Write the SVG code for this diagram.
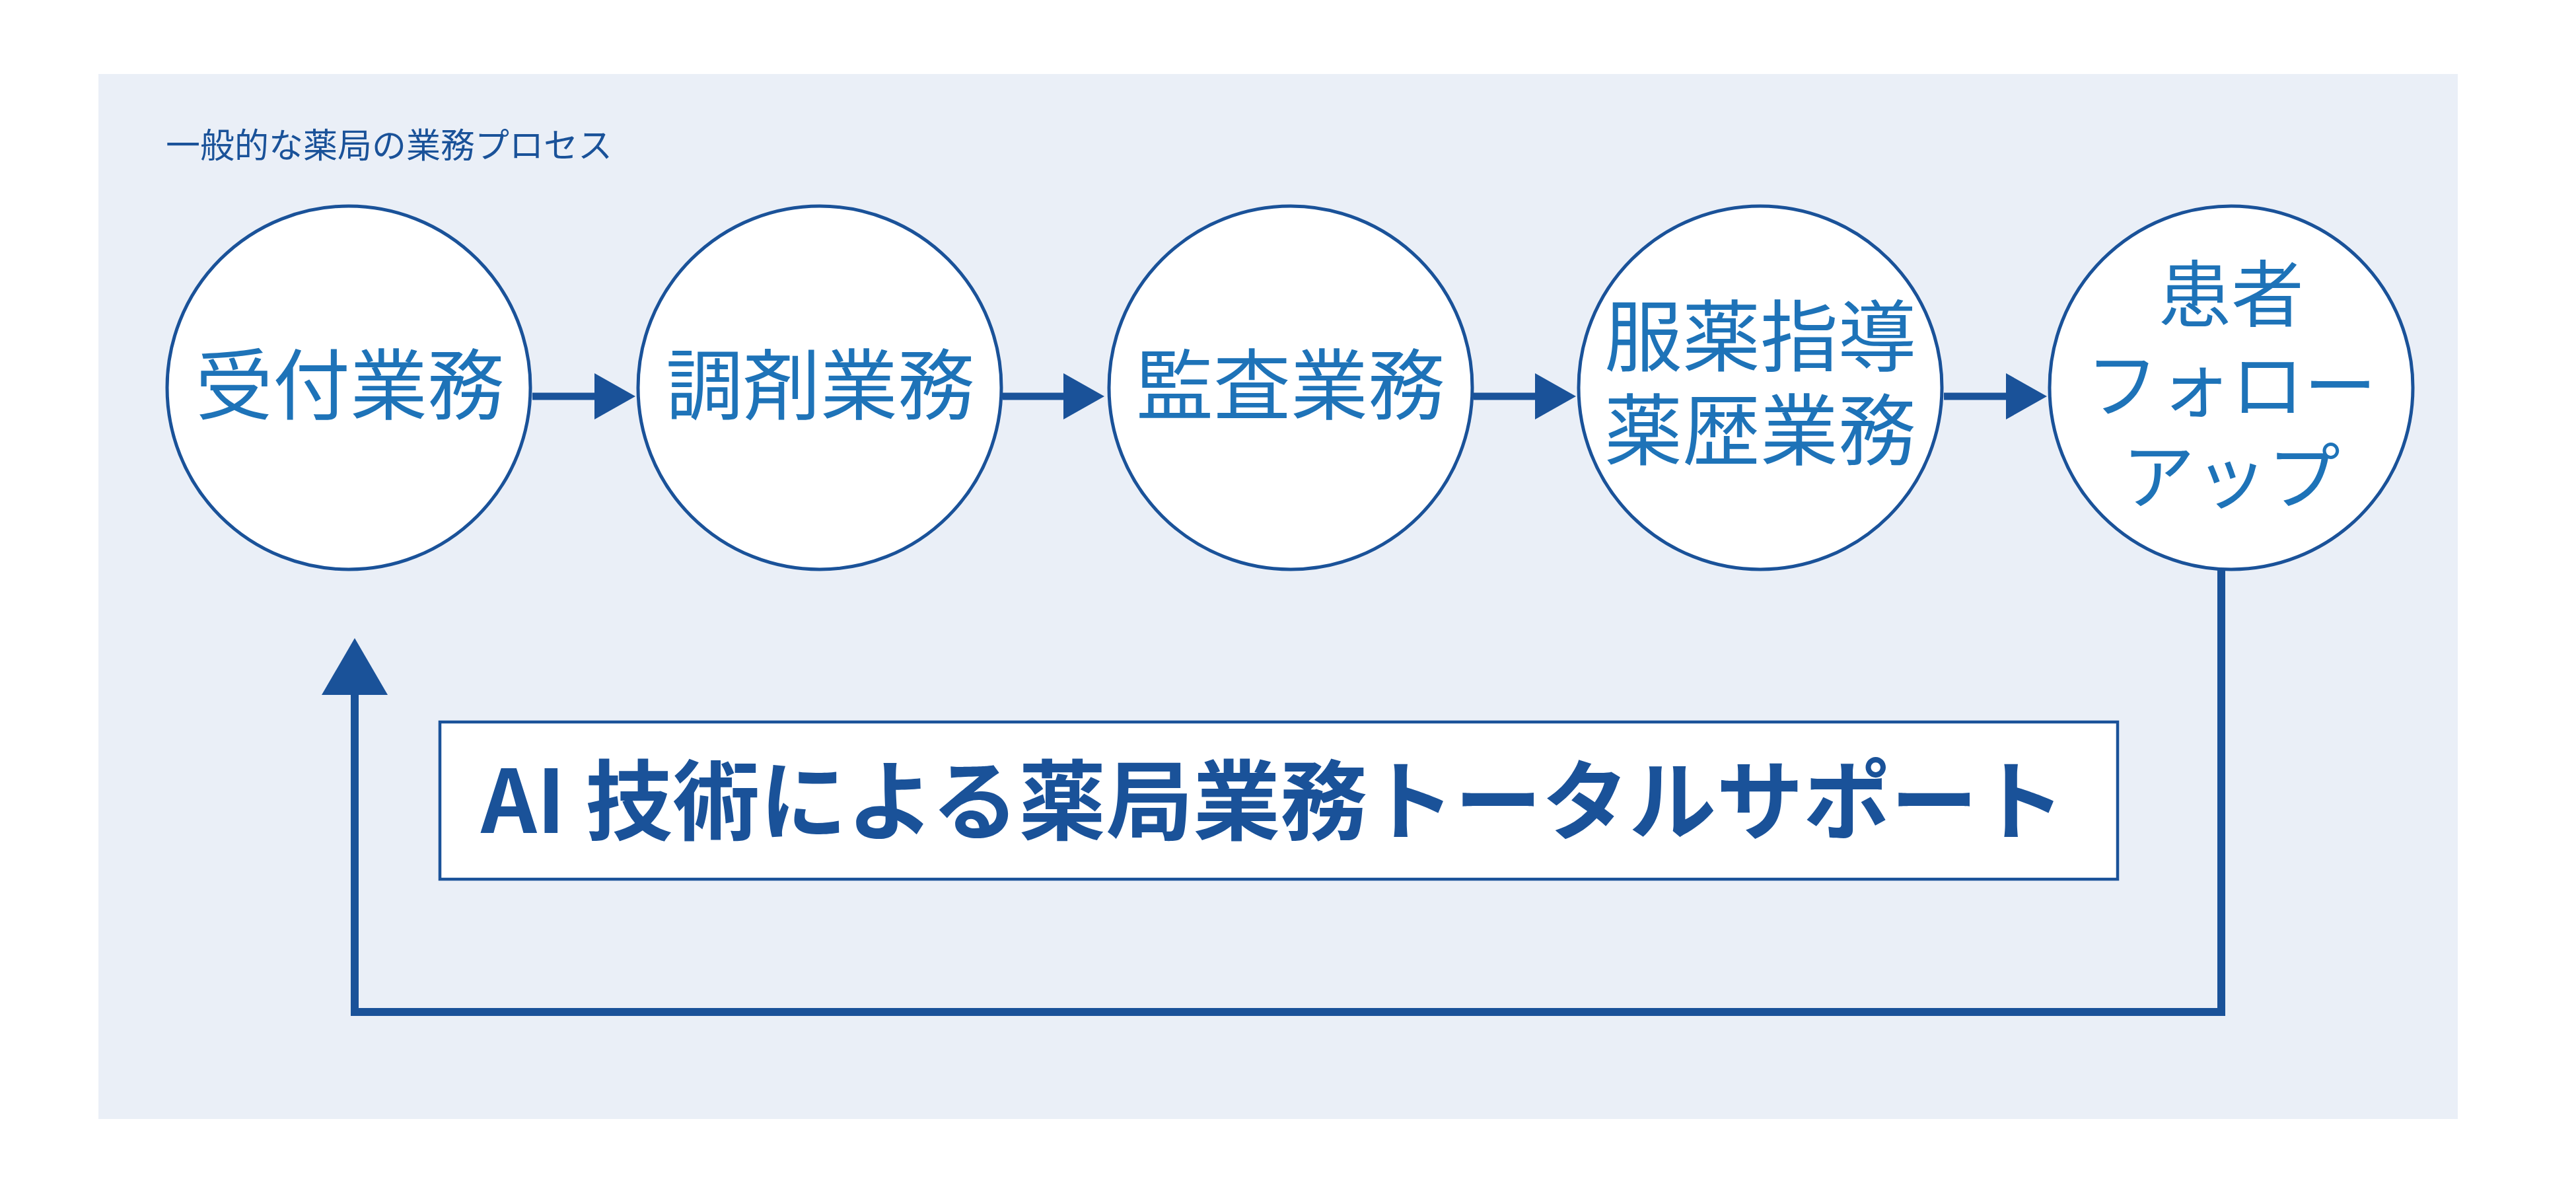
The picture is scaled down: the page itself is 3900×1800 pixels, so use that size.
<svg xmlns="http://www.w3.org/2000/svg" width="3900" height="1800" viewBox="0 0 3900 1800">
  <style>
    .panel { fill: #eaeff7; }
    .node { fill: #ffffff; stroke: #1a5299; stroke-width: 5; }
    .ntext { font-family: "Noto Sans CJK JP", "Noto Sans", sans-serif; fill: #1e73b8; text-anchor: middle; }
    .sub { font-family: "Noto Sans CJK JP", "Noto Sans", sans-serif; fill: #1a5299; font-size: 52px; }
    .conn { fill: none; stroke: #1a5299; }
    .banner { fill: #ffffff; stroke: #1a5299; stroke-width: 4.5; }
    .btext { font-family: "Noto Sans CJK JP", "Noto Sans", sans-serif; fill: #1a5299; font-weight: 700; font-size: 132px; }
  </style>
  <defs>
    <marker id="arrowSmall" markerUnits="userSpaceOnUse" markerWidth="62" markerHeight="70" refX="0" refY="35" orient="auto" viewBox="0 0 62 70">
      <path d="M0,0 L62,35 L0,70 z" fill="#1a5299"/>
    </marker>
    <marker id="arrowBig" markerUnits="userSpaceOnUse" markerWidth="86" markerHeight="100" refX="0" refY="50" orient="auto" viewBox="0 0 86 100">
      <path d="M0,0 L86,50 L0,100 z" fill="#1a5299"/>
    </marker>
  </defs>

  <rect class="panel" x="149" y="112" width="3572" height="1582"/>
  <text class="sub" x="251" y="239">一般的な薬局の業務プロセス</text>

  <g id="connectors">
    <line class="conn" stroke-width="11" x1="806" y1="600" x2="900" y2="600" marker-end="url(#arrowSmall)"/>
    <line class="conn" stroke-width="11" x1="1518" y1="600" x2="1610" y2="600" marker-end="url(#arrowSmall)"/>
    <line class="conn" stroke-width="11" x1="2231" y1="600" x2="2324" y2="600" marker-end="url(#arrowSmall)"/>
    <line class="conn" stroke-width="11" x1="2943" y1="600" x2="3037" y2="600" marker-end="url(#arrowSmall)"/>
    <path class="conn" stroke-width="12" stroke-linejoin="miter" d="M3363,862 V1532 H537 V1052" marker-end="url(#arrowBig)"/>
  </g>

  <g id="node-uketsuke">
    <circle class="node" cx="528" cy="587" r="275"/>
    <text class="ntext" x="530" y="626" font-size="117">受付業務</text>
  </g>
  <g id="node-chozai">
    <circle class="node" cx="1241" cy="587" r="275"/>
    <text class="ntext" x="1242" y="626" font-size="117">調剤業務</text>
  </g>
  <g id="node-kansa">
    <circle class="node" cx="1954" cy="587" r="275"/>
    <text class="ntext" x="1954" y="626" font-size="117">監査業務</text>
  </g>
  <g id="node-fukuyaku">
    <circle class="node" cx="2665" cy="587" r="275"/>
    <text class="ntext" x="2665" y="553" font-size="118">服薬指導</text>
    <text class="ntext" x="2665" y="695" font-size="118">薬歴業務</text>
  </g>
  <g id="node-follow">
    <circle class="node" cx="3378" cy="587" r="275"/>
    <text class="ntext" x="3378" y="486" font-size="110">患者</text>
    <text class="ntext" x="3378" y="624" font-size="110">フォロー</text>
    <text class="ntext" x="3378" y="762" font-size="110">アップ</text>
  </g>

  <g id="banner">
    <rect class="banner" x="666" y="1093" width="2540" height="238"/>
    <text class="btext" x="728" y="1261">AI 技術による薬局業務トータルサポート</text>
  </g>
</svg>
